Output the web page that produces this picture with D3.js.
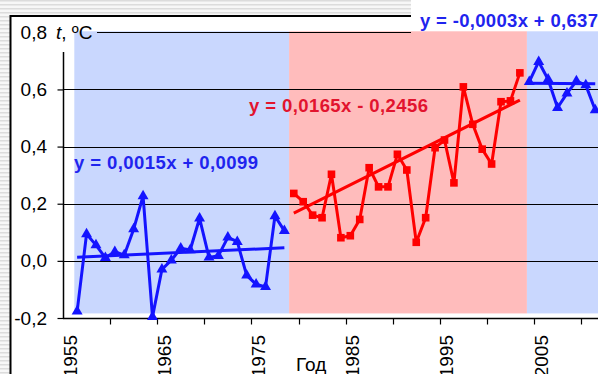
<!DOCTYPE html>
<html>
<head>
<meta charset="utf-8">
<script src="https://cdn.jsdelivr.net/npm/d3@7"></script>
<style>
  html, body { margin: 0; padding: 0; background: #fff; }
  svg { display: block; font-family: "Liberation Sans", Arial, sans-serif; }
</style>
</head>
<body>
<svg id="chart" width="598" height="374"></svg>
<script>
// Mean annual temperature anomaly, °C, split into three periods
const years1 = [1956, 1957, 1958, 1959, 1960, 1961, 1962, 1963, 1964, 1965, 1966, 1967,
                1968, 1969, 1970, 1971, 1972, 1973, 1974, 1975, 1976, 1977, 1978];
const temps1 = [-0.177, 0.094, 0.055, 0.011, 0.032, 0.020, 0.111, 0.227, -0.196, -0.030, 0.002, 0.044,
                0.038, 0.149, 0.012, 0.018, 0.082, 0.067, -0.051, -0.082, -0.091, 0.157, 0.105];

const years2 = [1979, 1980, 1981, 1982, 1983, 1984, 1985, 1986, 1987, 1988, 1989, 1990, 1991,
                1992, 1993, 1994, 1995, 1996, 1997, 1998, 1999, 2000, 2001, 2002, 2003];
const temps2 = [0.236, 0.207, 0.160, 0.151, 0.303, 0.081, 0.088, 0.145, 0.326, 0.259, 0.259, 0.373, 0.318,
                0.065, 0.151, 0.396, 0.423, 0.273, 0.609, 0.478, 0.391, 0.339, 0.557, 0.560, 0.658];

const years3 = [2004, 2005, 2006, 2007, 2008, 2009, 2010, 2011];
const temps3 = [0.627, 0.697, 0.635, 0.536, 0.586, 0.629, 0.615, 0.528];

// Linear trends y = a·x + b, x counted from 1954 (x = 1 for 1955)
const trendSlopes = [0.0015, 0.0165, -0.0003];
const trendIntercepts = [0.0099, -0.2456, 0.637];
const trendLabels = ["y = 0,0015x + 0,0099", "y = 0,0165x - 0,2456", "y = -0,0003x + 0,637"];
const trendOrigin = 1954;

// Shaded period backgrounds (edges in years)
const periodEdges = [1955.7, 1978.5, 2003.75, 2013];

const yTicks = [-0.2, 0, 0.2, 0.4, 0.6, 0.8];
const xMinorTicks = [1960, 1965, 1970, 1975, 1980, 1985, 1990, 1995, 2000, 2005, 2010];
const xLabelYears = [1955, 1965, 1975, 1985, 1995, 2005];

const svg = d3.select("#chart");
const W = 598, H = 374;

// striped backdrop around the chart frame
const defs = svg.append("defs");
const pat = defs.append("pattern").attr("id", "stripes")
  .attr("patternUnits", "userSpaceOnUse").attr("width", 8).attr("height", 4);
pat.append("rect").attr("width", 8).attr("height", 4).attr("fill", "#f7f7f7");
pat.append("rect").attr("y", 0).attr("width", 8).attr("height", 1.5).attr("fill", "#dcdcdc");
svg.append("rect").attr("width", W).attr("height", H).attr("fill", "url(#stripes)");
svg.append("rect").attr("x", 10).attr("y", 16).attr("width", W).attr("height", H).attr("fill", "#fff");

// year scale: each year is a category 9.42 px wide, points sit at category centres
const x = d3.scaleLinear().domain([1954.5, 2004.5]).range([63, 534]);
const y = d3.scaleLinear().domain([-0.2, 0.8]).range([318, 32.3]);

const locale = d3.formatLocale({ decimal: ",", thousands: " ", grouping: [3], currency: ["", ""], minus: "-" });
const fmt = locale.format(".1f");

// period shading
const bandColors = ["#c9d7fe", "#ffbcbc", "#c9d7fe"];
const bandFloor = -0.184;
svg.append("g").selectAll("rect")
  .data(bandColors)
  .join("rect")
  .attr("x", (d, i) => x(periodEdges[i]))
  .attr("width", (d, i) => x(periodEdges[i + 1]) - x(periodEdges[i]))
  .attr("y", y(0.8) - 1)
  .attr("height", y(bandFloor) - y(0.8) + 1)
  .attr("fill", d => d);

// horizontal gridlines
const grid = svg.append("g").attr("stroke", "#000").attr("stroke-width", 1.2);
grid.selectAll("line")
  .data(yTicks.filter(v => v > -0.2 && v < 0.8))
  .join("line")
  .attr("x1", 63).attr("x2", W)
  .attr("y1", d => Math.round(y(d)) + 0.5).attr("y2", d => Math.round(y(d)) + 0.5);
grid.append("line")
  .attr("x1", 97).attr("x2", 411)
  .attr("y1", Math.round(y(0.8)) + 0.5).attr("y2", Math.round(y(0.8)) + 0.5);

// y axis
const yAxis = svg.append("g").attr("transform", "translate(63.5,0)")
  .call(d3.axisLeft(y).tickValues(yTicks).tickSize(6).tickPadding(10).tickFormat(fmt));
yAxis.select(".domain").remove();
yAxis.selectAll(".tick line").attr("stroke", "#000").attr("stroke-width", 1.2)
  .filter(d => d === 0.8).remove();
yAxis.selectAll(".tick text").attr("font-size", 19).attr("fill", "#000")
  .attr("font-family", "Liberation Sans, Arial, sans-serif").attr("x", -16.5);
yAxis.append("line").attr("x1", 0).attr("x2", 0).attr("y1", 52).attr("y2", y(-0.2))
  .attr("stroke", "#000").attr("stroke-width", 1.5);

// axis title
const yTitle = svg.append("text").attr("x", 56).attr("y", 39).attr("font-size", 19).attr("fill", "#000");
yTitle.append("tspan").attr("font-style", "italic").text("t");
yTitle.append("tspan").text(", ºC");

// x axis: tick marks on category boundaries every 5 years
const xb = svg.append("g").attr("transform", `translate(0,${Math.round(y(-0.2)) + 0.5})`);
xb.append("line").attr("x1", 63).attr("x2", W).attr("stroke", "#000").attr("stroke-width", 1.5);
xb.selectAll("line.tk").data(xMinorTicks).join("line").attr("class", "tk")
  .attr("x1", d => Math.round(x(d - 0.5)) + 0.5).attr("x2", d => Math.round(x(d - 0.5)) + 0.5)
  .attr("y1", 0).attr("y2", 6).attr("stroke", "#000").attr("stroke-width", 1.2);

// rotated year labels
svg.append("g").selectAll("text").data(xLabelYears).join("text")
  .attr("transform", d => `translate(${x(d) + 2},335) rotate(-90)`)
  .attr("text-anchor", "end").attr("dy", "0.36em")
  .attr("font-size", 19).attr("fill", "#000")
  .text(d => d);

svg.append("text").attr("x", 296).attr("y", 371).attr("font-size", 19).attr("fill", "#000").text("Год");

// trend lines
const blue = "#1414ff", red = "#ff0000";
const series = [
  { years: years1, temps: temps1, color: blue, marker: "triangle" },
  { years: years2, temps: temps2, color: red, marker: "square" },
  { years: years3, temps: temps3, color: blue, marker: "triangle" }
];

series.forEach((s, i) => {
  const y0 = s.years[0], y1 = s.years[s.years.length - 1];
  const f = yr => trendSlopes[i] * (yr - trendOrigin) + trendIntercepts[i];
  svg.append("line")
    .attr("x1", x(y0)).attr("y1", y(f(y0)))
    .attr("x2", x(y1)).attr("y2", y(f(y1)))
    .attr("stroke", s.color).attr("stroke-width", 3);
});

// data lines and markers
const line = d3.line().x(d => x(d[0])).y(d => y(d[1]));
series.forEach(s => {
  const pts = s.years.map((yr, k) => [yr, s.temps[k]]);
  svg.append("path").datum(pts).attr("d", line)
    .attr("fill", "none").attr("stroke", s.color).attr("stroke-width", 3)
    .attr("stroke-linejoin", "round");
  const sym = d3.symbol()
    .type(s.marker === "triangle" ? d3.symbolTriangle : d3.symbolSquare)
    .size(s.marker === "triangle" ? 52 : 58);
  svg.append("g").selectAll("path").data(pts).join("path")
    .attr("transform", d => `translate(${x(d[0])},${y(d[1])})`)
    .attr("d", sym).attr("fill", s.color);
});

// equation labels
svg.append("text").attr("x", 74).attr("y", 169).attr("font-size", 18.5).attr("font-weight", "bold")
  .attr("fill", "#1f24ee").attr("textLength", 184).attr("lengthAdjust", "spacing").text(trendLabels[0]);
svg.append("text").attr("x", 249).attr("y", 112).attr("font-size", 18.5).attr("font-weight", "bold")
  .attr("fill", "#e2142e").attr("textLength", 179).attr("lengthAdjust", "spacing").text(trendLabels[1]);
svg.append("rect").attr("x", 411).attr("y", 0).attr("width", W - 411).attr("height", 31).attr("fill", "#fff");
svg.append("text").attr("x", 420).attr("y", 27).attr("font-size", 18.5).attr("font-weight", "bold")
  .attr("fill", "#1f24ee").attr("textLength", 178).attr("lengthAdjust", "spacing").text(trendLabels[2]);

// chart frame (top and left edges)
svg.append("path").attr("d", `M10.5,${H} V16 H411`).attr("fill", "none")
  .attr("stroke", "#000").attr("stroke-width", 2);
</script>
</body>
</html>
